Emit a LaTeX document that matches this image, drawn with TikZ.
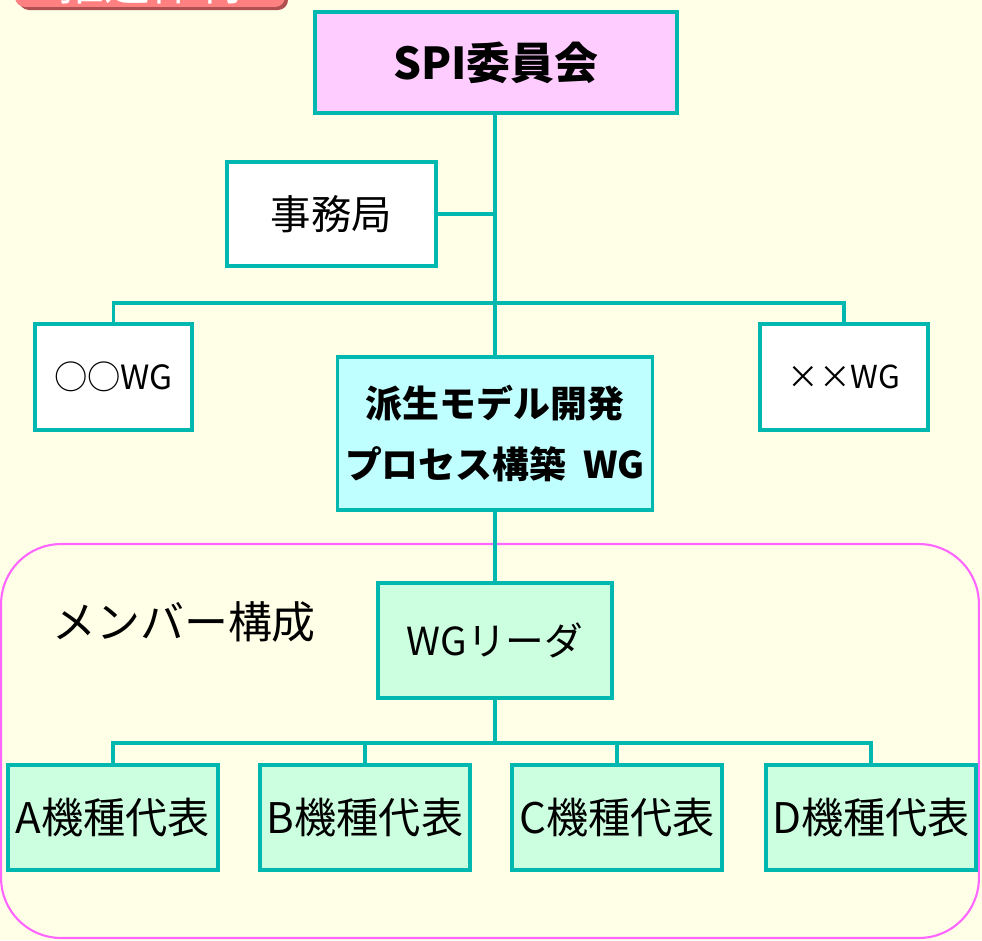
\documentclass[tikz,border=0pt]{standalone}
\usepackage{fontspec}
\setmainfont{Noto Sans CJK JP}
\definecolor{bgc}{RGB}{255,255,232}
\definecolor{tealc}{RGB}{0,184,176}
\definecolor{pinkc}{RGB}{255,204,255}
\definecolor{cyanc}{RGB}{192,255,255}
\definecolor{mintc}{RGB}{204,255,224}
\definecolor{magc}{RGB}{255,102,255}
\definecolor{redc}{RGB}{255,128,128}
\definecolor{redshadow}{RGB}{176,80,80}
\newcommand{\fsz}[1]{\fontsize{#1pt}{#1pt}\selectfont}
\begin{document}
\begin{tikzpicture}[x=0.02cm,y=-0.02cm,
  box/.style={draw=tealc, line width=2.2pt, inner sep=0pt, align=center},
  conn/.style={draw=tealc, line width=2.2pt},
  memberbox/.style={draw=magc, line width=1.2pt, rounded corners=1.2cm, inner sep=0pt},
  labelbox/.style={fill=redc, rounded corners=0.2cm, inner sep=0pt, text=white}]
\fill[bgc] (0,0) rectangle (982,940);
\useasboundingbox (0,0) rectangle (982,940);
% cut-off title label
\fill[redshadow, rounded corners=0.2cm] (19,-40) rectangle (288,10);
\node[labelbox, minimum width=5.4cm, minimum height=0.94cm] (title) at (150,-16.5) {\fsz{26}推進体制};
% member frame
\node[memberbox, minimum width=19.56cm, minimum height=7.88cm] (member) at (490,741) {};
\node[inner sep=0pt, anchor=west] (memlabel) at (52,622) {\fsz{25}メンバー構成};
% boxes
\node[box, fill=pinkc, minimum width=7.24cm, minimum height=2.02cm] (spi) at (496,62.5) {\fsz{25}\bfseries SPI委員会};
\node[box, fill=white, minimum width=4.18cm, minimum height=2.08cm] (jim) at (331.5,214) {\fsz{23}事務局};
\node[box, fill=white, minimum width=3.14cm, minimum height=2.12cm] (oo) at (113.5,377) {\fsz{19}○○WG};
\node[box, fill=white, minimum width=3.36cm, minimum height=2.12cm] (xx) at (844,377) {\fsz{18}××WG};
\node[box, fill=cyanc, minimum width=6.3cm, minimum height=3.06cm] (wg) at (495,433.5) {\fsz{21}\bfseries 派生モデル開発\\[13pt]\fsz{21}\bfseries プロセス構築\ \ WG};
\node[box, fill=mintc, minimum width=4.68cm, minimum height=2.3cm] (lead) at (495,640.5) {\fsz{22}WGリーダ};
\node[box, fill=mintc, minimum width=4.2cm, minimum height=2.1cm] (a) at (113,817.5) {\fsz{24}A機種代表};
\node[box, fill=mintc, minimum width=4.2cm, minimum height=2.1cm] (b) at (365,817.5) {\fsz{24}B機種代表};
\node[box, fill=mintc, minimum width=4.2cm, minimum height=2.1cm] (c) at (617,817.5) {\fsz{24}C機種代表};
\node[box, fill=mintc, minimum width=4.2cm, minimum height=2.1cm] (d) at (871,817.5) {\fsz{24}D機種代表};
% connectors
\coordinate (bar1) at (495,303);
\coordinate (bar2) at (495,743);
\draw[conn] (spi.south -| wg.north) -- (wg.north);
\draw[conn] (jim.east) -- (jim.east -| wg.north);
\draw[conn] (oo.north) |- (bar1) -| (xx.north);
\draw[conn] (wg.south) -- (lead.north);
\draw[conn] (lead.south) -- (bar2);
\draw[conn] (a.north) |- (bar2) -| (d.north);
\draw[conn] (b.north) -- (b.north |- bar2);
\draw[conn] (c.north) -- (c.north |- bar2);
\end{tikzpicture}
\end{document}
